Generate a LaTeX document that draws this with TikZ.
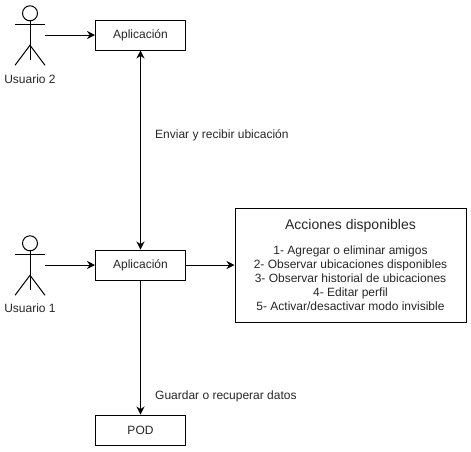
\documentclass[tikz,border=0pt]{standalone}
\usepackage{fontspec}
\setmainfont{Liberation Sans}
\usetikzlibrary{arrows.meta}
\tikzset{
  bx/.style={draw=black,line width=1pt,minimum width=90pt,minimum height=30pt,inner sep=0pt,text=black!85,font=\fontsize{12}{14}\selectfont}, %box
  ac/.style={minimum width=30pt,minimum height=60pt,inner sep=0pt}, %actor frame
  tx/.style={inner sep=0pt,text=black!85,font=\fontsize{12}{14}\selectfont}, %text
  de/.style={line width=1pt,-{Stealth[length=8pt,width=8pt]}}, %directed edge
  dd/.style={line width=1pt,{Stealth[length=8pt,width=8pt]}-{Stealth[length=8pt,width=8pt]}}, %both ways
  fig/.style={line width=1pt,draw=black} %stick figure
}
\newcommand{\stickman}[1]{%
  \draw[fig] (#1.north)++(0,8) circle (7.5pt);
  \draw[fig] (#1.north)++(0,15.5) -- ++(0,39);
  \draw[fig] (#1.north)++(-15,19) -- ++(30,0);
  \draw[fig] (#1.north)++(-15,60) -- ++(15,-20) -- ++(15,20);
}
\begin{document}
\begin{tikzpicture}[x=1pt,y=-1pt]
\useasboundingbox (0,0) rectangle (471,451);
\node[ac](ub)at(30,35.5){};
\node[ac](ua)at(30,265.5){};
\stickman{ub}
\stickman{ua}
\node[tx](lb)at(30,79){Usuario 2};
\node[tx](la)at(30,308){Usuario 1};
\node[bx](pb)at(140.5,35){Aplicación};
\node[bx](pa)at(140.5,265){Aplicación};
\node[bx](pd)at(140.5,430){POD};
\node[draw=black,line width=1pt,minimum width=231pt,minimum height=114pt,inner sep=0pt,align=center,text=black!85,font=\fontsize{12}{14}\selectfont](ad)at(350.5,265){%
{\fontsize{14}{17}\selectfont Acciones disponibles}\\[11pt]
1- Agregar o eliminar amigos\\
2- Observar ubicaciones disponibles\\
3- Observar historial de ubicaciones\\
4- Editar perfil\\
5- Activar/desactivar modo invisible};
\node[tx,anchor=west](ea)at(155,135){Enviar y recibir ubicación};
\node[tx,anchor=west](eb)at(155,396){Guardar o recuperar datos};
\draw[de](ub.east|-pb)--(pb);
\draw[de](ua.east|-pa)--(pa);
\draw[dd](pb)--(pa);
\draw[de](pa)--(ad);
\draw[de](pa)--(pd);
\end{tikzpicture}
\end{document}
